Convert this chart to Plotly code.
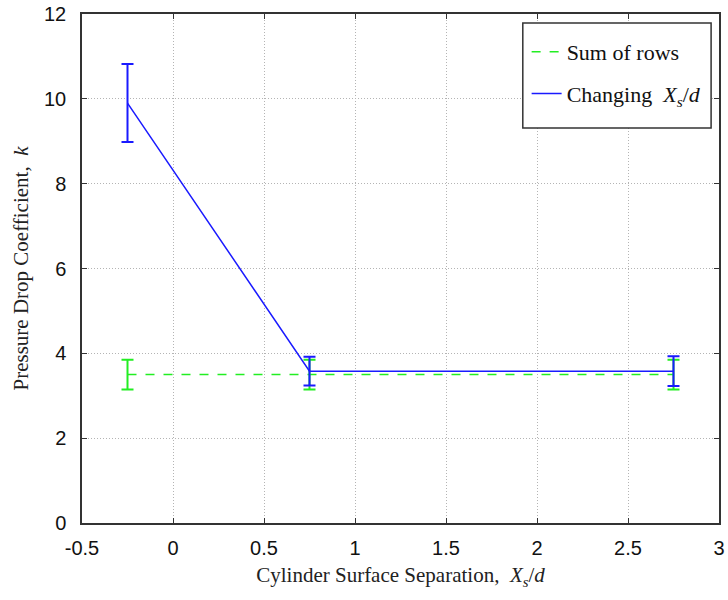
import plotly.graph_objects as go

# Cylinder surface separation values and measured pressure drop coefficients
separation = [-0.25, 0.75, 2.75]

sum_rows_k = [3.5, 3.5, 3.5]
sum_rows_err = [0.35, 0.35, 0.35]

changing_k = [9.9, 3.58, 3.58]
changing_err = [0.92, 0.34, 0.35]

x_ticks = [-0.5, 0, 0.5, 1, 1.5, 2, 2.5, 3]
x_tick_text = ["-0.5", "0", "0.5", "1", "1.5", "2", "2.5", "3"]
y_ticks = [0, 2, 4, 6, 8, 10, 12]

GREEN = "#22ee22"
BLUE = "#1a1aff"
SERIF = "Liberation Serif, Times New Roman, serif"
SANS = "Liberation Sans, Arial, sans-serif"

fig = go.Figure()

fig.add_trace(go.Scatter(
    x=separation, y=sum_rows_k, mode="lines",
    name="Sum of rows", legendgroup="a",
    line=dict(color=GREEN, width=1.5, dash="dash"),
    error_y=dict(type="data", array=sum_rows_err, visible=True,
                 color=GREEN, thickness=2, width=6),
))

fig.add_trace(go.Scatter(
    x=separation, y=changing_k, mode="lines",
    name="Changing  <i>X<sub>s</sub></i>/<i>d</i>", legendgroup="b",
    line=dict(color=BLUE, width=1.5),
    error_y=dict(type="data", array=changing_err, visible=True,
                 color=BLUE, thickness=2, width=6),
))

axis_common = dict(
    showline=True, linecolor="#333333", linewidth=1.5,
    mirror="ticks", ticks="inside", ticklen=5, tickcolor="#333333",
    showgrid=True, gridcolor="#b4b4b4", gridwidth=1, griddash="1px,2px",
    zeroline=False,
    tickfont=dict(family=SANS, size=20, color="#111111"),
)

fig.update_xaxes(
    range=[-0.5, 3], tickvals=x_ticks, ticktext=x_tick_text,
    ticklabelstandoff=6, ticklabeloverflow="allow",
    title=dict(text="Cylinder Surface Separation,  <i>X<sub>s</sub></i>/<i>d</i>",
               font=dict(family=SERIF, size=21, color="#222222"),
               standoff=10),
    **axis_common,
)
fig.update_yaxes(
    range=[0, 12], tickvals=y_ticks,
    ticklabelstandoff=10,
    title=dict(text="Pressure Drop Coefficient,  <i>k</i>",
               font=dict(family=SERIF, size=21, color="#222222"),
               standoff=10),
    **axis_common,
)

# legend frame, drawn as a box so its size can be set freely
fig.add_shape(
    type="rect", xref="paper", yref="paper",
    x0=0.692, x1=0.9876, y0=0.776, y1=0.9823,
    fillcolor="white", line=dict(color="#333333", width=1.5),
    layer="above",
)

fig.update_layout(
    width=728, height=600,
    margin=dict(l=82, r=3, t=14, b=77),
    plot_bgcolor="white", paper_bgcolor="white",
    legend=dict(
        x=0.698, y=0.9666, xanchor="left", yanchor="top",
        bgcolor="rgba(0,0,0,0)", borderwidth=0,
        font=dict(family=SERIF, size=22, color="#111111"),
        tracegroupgap=10, itemwidth=30,
    ),
)

fig.write_html("out.html")
